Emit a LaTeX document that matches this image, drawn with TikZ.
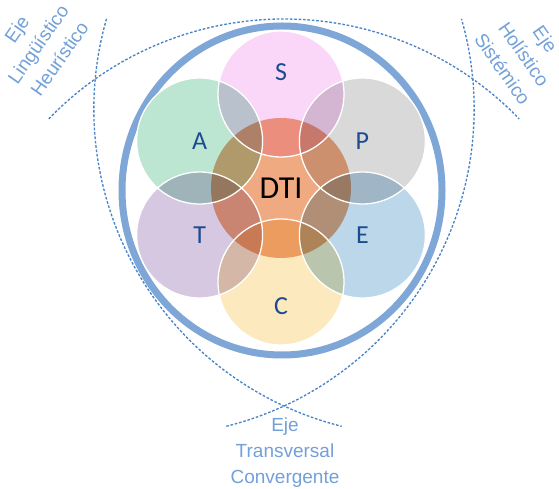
\documentclass[tikz,border=0pt]{standalone}
\usepackage{fontspec}
\setmainfont{Liberation Sans}
\newfontfamily\carlito{Carlito}
\usepackage{xcolor}
\definecolor{cRing}{HTML}{7EA6D6}
\definecolor{cAxis}{HTML}{4A84C8}
\definecolor{cLabel}{HTML}{72A0D8}
\definecolor{cText}{HTML}{1D4B8F}
\definecolor{cCore}{HTML}{F0AA82}
\definecolor{cS}{HTML}{FAD6F8}
\definecolor{cA}{HTML}{BCE6D2}
\definecolor{cP}{HTML}{D9D9D9}
\definecolor{cT}{HTML}{D7C8E1}
\definecolor{cE}{HTML}{BDD7EA}
\definecolor{cC}{HTML}{FCEABE}
\usepackage{tikz}
\usetikzlibrary{positioning,calc}
\tikzset{
  node-core/.style={circle,minimum size=140pt,inner sep=0pt,fill=cCore,
    font=\carlito\fontsize{32}{32}\selectfont},
  node-petal/.style={circle,minimum size=126pt,inner sep=0pt},
  % the petal rims stay white where the fills overlap
  petal-edge/.style={draw=white,line width=1.3pt},
  petal-text/.style={text=cText,font=\carlito\fontsize{26}{26}\selectfont},
  frame-ring/.style={draw=cRing,line width=7pt},
  axis-line/.style={draw=cAxis,line width=1.35pt,dash pattern=on 2.6pt off 1.8pt},
  axis-text/.style={text=cLabel,align=center,font=\fontsize{19}{26}\selectfont},
}
\begin{document}
\begin{tikzpicture}[x=1pt,y=1pt]
  \useasboundingbox (0,0) rectangle (559,489);
  \coordinate (O) at (284,301);
  % three axes: arcs of radius 327 crossing at the corners
  \draw[axis-line] ([shift={(270:158)}]O) ++(136:327) arc[start angle=136,end angle=44,radius=327];
  \draw[axis-line] ([shift={(30:158)}]O)  ++(164:327) arc[start angle=164,end angle=256,radius=327];
  \draw[axis-line] ([shift={(150:158)}]O) ++(284:327) arc[start angle=284,end angle=376,radius=327];
  \draw[frame-ring] (282,298.5) ellipse[x radius=160,y radius=164.5];
  \begin{scope}[blend group=multiply]
    \node[node-core] (DTI) at (281,301) {DTI};
    \foreach \n/\a in {S/90,P/30,E/-30,C/-90,T/-150,A/150}
      \node[node-petal,fill=c\n] (\n) at ([shift={(\a:94)}]DTI.center) {};
  \end{scope}
  \foreach \n/\a/\d in {S/90/22,P/30/0,E/-30/0,C/-90/24,T/-150/0,A/150/0}{
    \draw[petal-edge] (\n.center) circle[radius=63];
    \node[petal-text] (\n-lbl) at ([shift={(\a:\d)}]\n.center) {\n};
  }
  \node[axis-text,rotate=55]  (ling)  at (38,445)  {Eje\\Lingüístico\\Heurístico};
  \node[axis-text,rotate=-55] (holi)  at (524,435) {Eje\\Holístico\\Sistémico};
  \node[axis-text]            (trans) at (285,36)  {Eje\\Transversal\\Convergente};
\end{tikzpicture}
\end{document}
